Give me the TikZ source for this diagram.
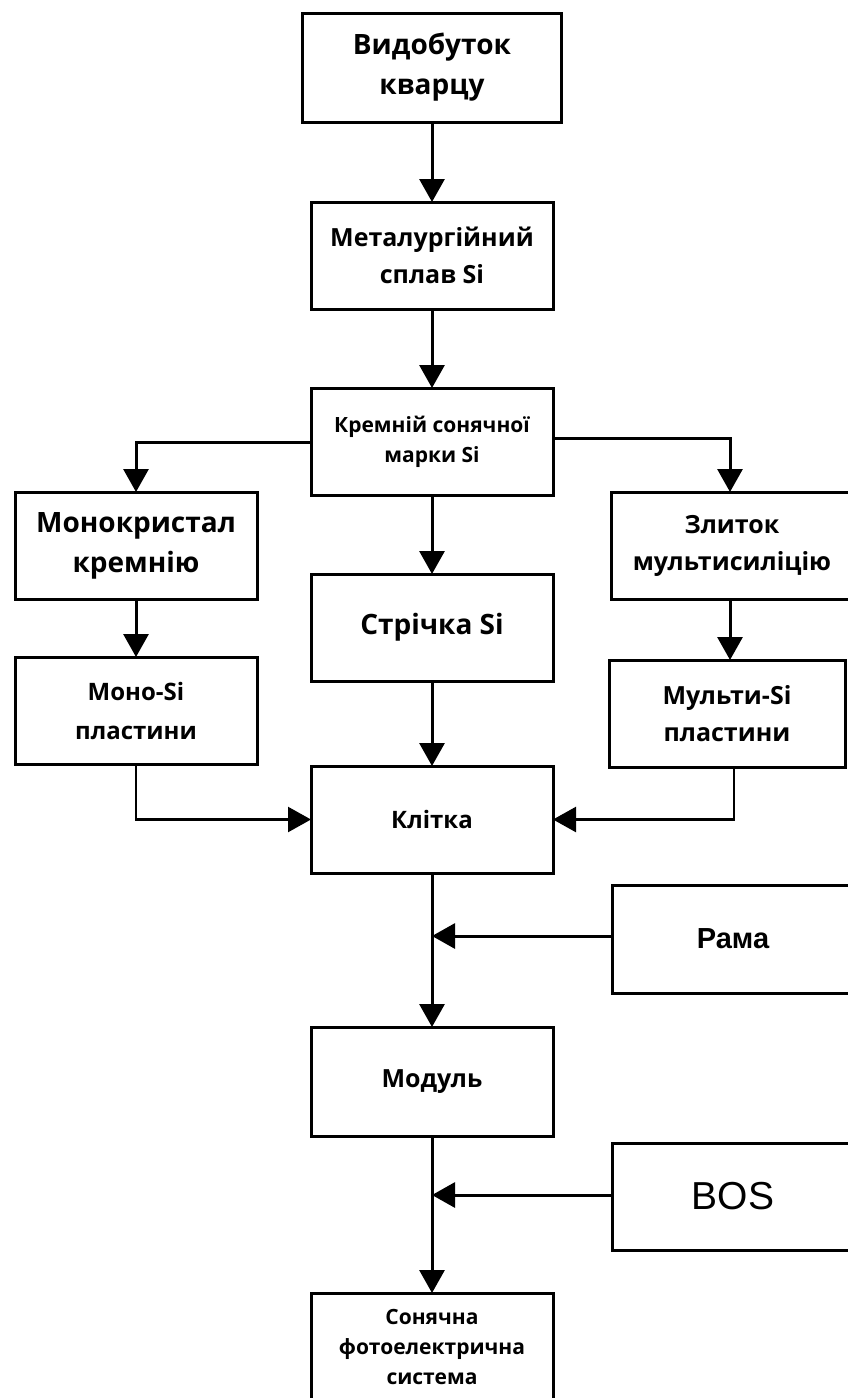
\documentclass[tikz,border=0pt]{standalone}
\usepackage{fontspec}
\setmainfont{Open Sans}[UprightFont=* Bold]
\newfontfamily\arialfont{Liberation Sans}
\usetikzlibrary{arrows.meta,positioning}

\begin{document}
\begin{tikzpicture}[x=1pt,y=1pt,>={Triangle[length=23pt,width=25pt]},
 box/.style={draw,line width=3pt,outer sep=0pt,minimum width=242pt,minimum height=107pt,align=center,inner sep=0pt},
 flow/.style={->,line width=3pt}]
\useasboundingbox (0,0) rectangle (848,-1398);
% main column
\node[box,minimum width=259pt,minimum height=109pt,font=\fontsize{28}{40}\selectfont] (quarry) at (432,-67.5) {Видобуток\\кварцу};
\node[box,below=80pt of quarry,font=\fontsize{25}{37}\selectfont] (metal) {Металургійний\\сплав Si};
\node[box,below=79pt of metal,font=\fontsize{21}{30}\selectfont] (solar) {Кремній сонячної\\марки Si};
\node[box,below=79pt of solar,font=\fontsize{28}{40}\selectfont] (ribbon) {Стрічка Si};
\node[box,below=85pt of ribbon,font=\fontsize{24}{36}\selectfont] (cell) {Клітка};
\node[box,below=154pt of cell,minimum height=109pt,font=\fontsize{25}{37}\selectfont] (module) {Модуль};
\node[box,below=157pt of module,minimum height=108pt,font=\fontsize{21}{30}\selectfont] (pvsys) {Сонячна\\фотоелектрична\\система};
% side branches
\node[box,below left=-3pt and 54pt of solar,font=\fontsize{28}{40}\selectfont] (crystal) {Монокристал\\кремнію};
\node[box,below=58pt of crystal,font=\fontsize{24}{39}\selectfont] (monowafer) {Моно-Si\\пластини};
\node[box,below right=-3pt and 58pt of solar,minimum width=300pt,font=\fontsize{25}{37}\selectfont] (ingot) {\hspace*{-58pt}Злиток\\\hspace*{-58pt}мультисиліцію};
\node[box,below=61pt of ingot.south west,anchor=north west,xshift=-2pt,minimum width=236pt,font=\fontsize{25}{37}\selectfont] (multiwafer) {Мульти-Si\\пластини};
\node[box,below right=12pt and 59pt of cell,minimum width=300pt,minimum height=108pt,font=\arialfont\bfseries\fontsize{29}{34}\selectfont] (frame) {\hspace*{-58pt}Рама};
\node[box,below right=7pt and 59pt of module,minimum width=300pt,font=\arialfont\fontsize{39}{44}\selectfont] (bos) {\hspace*{-58pt}BOS};
% connectors
\foreach \a/\b in {quarry/metal,metal/solar,solar/ribbon,ribbon/cell,cell/module,module/pvsys,crystal/monowafer} \draw[flow] (\a.south)--(\b.north);
\draw[flow] (ingot.south-|730,0) -- (multiwafer.north-|730,0);
\draw[flow] (solar.west|-0,-442) -| (crystal.north);
\draw[flow] (solar.east|-0,-438) -| (ingot.north-|730,0);
\draw[flow,line width=2.4pt] (monowafer.south) |- (cell.west);
\draw[flow,line width=2.4pt] (multiwafer.south-|734,0) |- (cell.east);
\draw[flow] (frame.west|-0,-936) -- (cell.south|-0,-936);
\draw[flow] (bos.west|-0,-1195) -- (cell.south|-0,-1195);
\end{tikzpicture}
\end{document}
